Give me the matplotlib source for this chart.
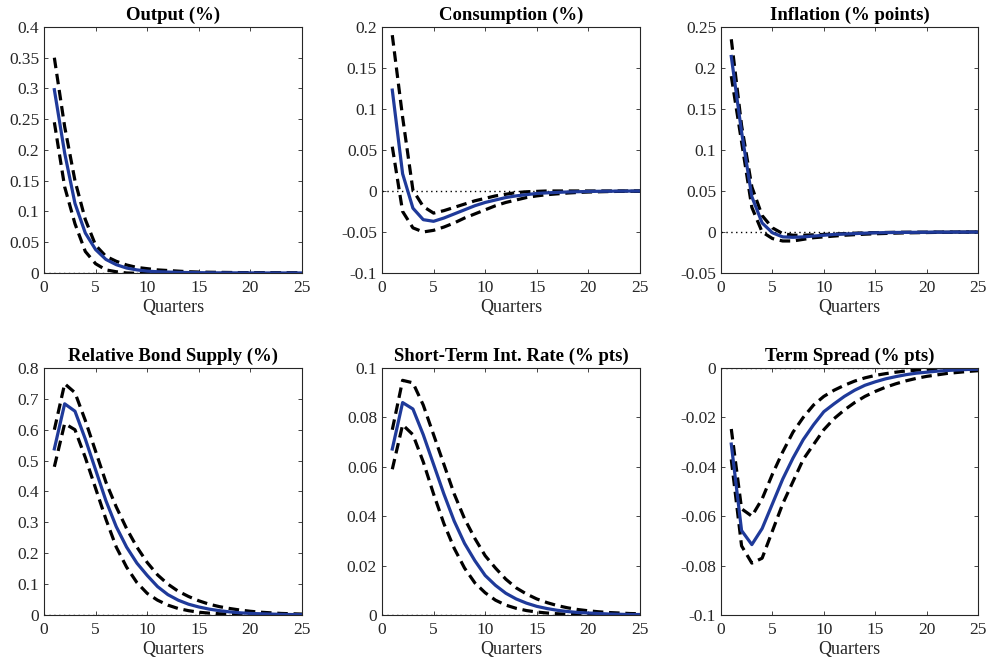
import numpy as np
import matplotlib
matplotlib.use('Agg')
import matplotlib.pyplot as plt

plt.rcParams['font.family'] = ['Liberation Serif', 'DejaVu Serif']

quarters = np.arange(1, 26)

titles = ['Output (%)', 'Consumption (%)', 'Inflation (% points)',
          'Relative Bond Supply (%)', 'Short-Term Int. Rate (% pts)', 'Term Spread (% pts)']

# median responses and bands
output_med = [0.298, 0.195, 0.113, 0.065, 0.038, 0.022, 0.0135, 0.008, 0.005, 0.003, 0.002, 0.0015, 0.001,
              0.0007, 0.0005, 0.0003, 0.0002, 0.0002, 0.0001, 0.0001, 0.0, 0.0, 0.0, 0.0, 0.0]
output_hi = [0.35, 0.238, 0.15, 0.087, 0.045, 0.027, 0.019, 0.013, 0.009, 0.007, 0.005, 0.004, 0.003,
             0.002, 0.0015, 0.0012, 0.001, 0.0008, 0.0006, 0.0005, 0.0004, 0.0003, 0.0002, 0.0002, 0.0001]
output_lo = [0.245, 0.14, 0.08, 0.035, 0.015, 0.005, 0.002, 0.0, -0.0005, -0.0005, -0.0004, -0.0003, -0.0002,
             -0.0002, -0.0001, -0.0001, 0.0, 0.0, 0.0, 0.0, 0.0, 0.0, 0.0, 0.0, 0.0]

cons_med = [0.123, 0.021, -0.021, -0.035, -0.037, -0.033, -0.028, -0.023, -0.018, -0.014, -0.011, -0.008,
            -0.006, -0.0045, -0.003, -0.0023, -0.0017, -0.0012, -0.0009, -0.0006, -0.0004, -0.0003, -0.0002,
            -0.0001, -0.0001]
cons_hi = [0.19, 0.09, 0.001, -0.019, -0.027, -0.024, -0.020, -0.016, -0.012, -0.009, -0.006, -0.004, -0.002,
           -0.001, -0.0005, 0.0, 0.0, 0.0, 0.0, 0.0, 0.0, 0.0, 0.0, 0.0, 0.0]
cons_lo = [0.054, -0.025, -0.045, -0.05, -0.048, -0.044, -0.039, -0.033, -0.028, -0.023, -0.018, -0.014,
           -0.011, -0.008, -0.006, -0.0045, -0.0035, -0.0025, -0.0018, -0.0013, -0.001, -0.0007, -0.0005,
           -0.0004, -0.0003]

infl_med = [0.214, 0.122, 0.043, 0.011, -0.001, -0.006, -0.0065, -0.006, -0.005, -0.004, -0.003, -0.0025,
            -0.002, -0.0015, -0.001, -0.0008, -0.0006, -0.0005, -0.0004, -0.0003, -0.0002, -0.0002, -0.0001,
            -0.0001, -0.0001]
infl_hi = [0.235, 0.13, 0.055, 0.02, 0.005, -0.002, -0.004, -0.004, -0.0035, -0.003, -0.0025, -0.002, -0.0015,
           -0.001, -0.0008, -0.0006, -0.0004, -0.0003, -0.0002, -0.0002, -0.0001, -0.0001, 0.0, 0.0, 0.0]
infl_lo = [0.19, 0.11, 0.03, 0.0, -0.008, -0.011, -0.011, -0.009, -0.007, -0.006, -0.005, -0.004, -0.0033,
           -0.0027, -0.0022, -0.0018, -0.0014, -0.0011, -0.0009, -0.0007, -0.0005, -0.0004, -0.0003, -0.0002,
           -0.0002]

bond_med = [0.538, 0.684, 0.66, 0.57, 0.47, 0.37, 0.286, 0.22, 0.168, 0.128, 0.092, 0.066, 0.048, 0.035,
            0.026, 0.019, 0.014, 0.010, 0.007, 0.005, 0.004, 0.003, 0.002, 0.0015, 0.001]
bond_hi = [0.6, 0.749, 0.72, 0.63, 0.53, 0.43, 0.35, 0.28, 0.22, 0.17, 0.13, 0.10, 0.077, 0.06, 0.046, 0.035,
           0.027, 0.021, 0.016, 0.012, 0.009, 0.007, 0.005, 0.004, 0.003]
bond_lo = [0.48, 0.62, 0.60, 0.51, 0.41, 0.31, 0.22, 0.155, 0.105, 0.07, 0.048, 0.032, 0.021, 0.014, 0.009,
           0.006, 0.004, 0.003, 0.002, 0.0015, 0.001, 0.0007, 0.0005, 0.0003, 0.0002]

rate_med = [0.0672, 0.086, 0.0834, 0.073, 0.061, 0.049, 0.038, 0.029, 0.022, 0.016, 0.012, 0.0088, 0.0065,
            0.0048, 0.0035, 0.0026, 0.0019, 0.0014, 0.001, 0.0008, 0.0006, 0.0004, 0.0003, 0.0002, 0.0002]
rate_hi = [0.075, 0.095, 0.094, 0.085, 0.073, 0.061, 0.049, 0.039, 0.031, 0.024, 0.019, 0.0145, 0.011, 0.0085,
           0.0065, 0.005, 0.0038, 0.0029, 0.0022, 0.0017, 0.0013, 0.001, 0.0008, 0.0006, 0.0005]
rate_lo = [0.059, 0.077, 0.073, 0.062, 0.049, 0.037, 0.027, 0.019, 0.013, 0.009, 0.006, 0.004, 0.0027, 0.0018,
           0.0012, 0.0008, 0.0005, 0.0003, 0.0002, 0.0001, 0.0001, 0.0, 0.0, 0.0, 0.0]

spread_med = [-0.0308, -0.0658, -0.0715, -0.065, -0.055, -0.045, -0.0365, -0.029, -0.023, -0.0177, -0.0145,
              -0.0115, -0.009, -0.007, -0.0056, -0.0044, -0.0035, -0.0027, -0.0021, -0.0017, -0.0013, -0.001,
              -0.0008, -0.0006, -0.0005]
spread_hi = [-0.0247, -0.057, -0.060, -0.053, -0.043, -0.034, -0.026, -0.02, -0.015, -0.0115, -0.009, -0.007,
             -0.0053, -0.004, -0.003, -0.0023, -0.0017, -0.0012, -0.0009, -0.0006, -0.0004, -0.0003, -0.0002,
             -0.0001, 0.0]
spread_lo = [-0.037, -0.072, -0.079, -0.077, -0.066, -0.055, -0.046, -0.037, -0.031, -0.025, -0.0205, -0.017,
             -0.014, -0.0115, -0.0095, -0.0078, -0.0064, -0.0052, -0.0042, -0.0034, -0.0028, -0.0022, -0.0018,
             -0.0014, -0.0011]

medians = [output_med, cons_med, infl_med, bond_med, rate_med, spread_med]
uppers = [output_hi, cons_hi, infl_hi, bond_hi, rate_hi, spread_hi]
lowers = [output_lo, cons_lo, infl_lo, bond_lo, rate_lo, spread_lo]

ylims = [(0, 0.4), (-0.1, 0.2), (-0.05, 0.25), (0, 0.8), (0, 0.1), (-0.1, 0)]
yticks = [np.arange(0, 0.41, 0.05), np.arange(-0.1, 0.21, 0.05), np.arange(-0.05, 0.26, 0.05),
          np.arange(0, 0.81, 0.1), np.arange(0, 0.101, 0.02), np.arange(-0.1, 0.001, 0.02)]

fig = plt.figure(figsize=(9.87, 6.64), dpi=100)

lefts = [0.0446, 0.387, 0.7305]
widths = [0.2614, 0.2614, 0.2604]
bottoms = [0.5889, 0.0738]
heights = [0.3705, 0.372]

blue = '#1f3a9a'

for i in range(6):
    r, c = divmod(i, 3)
    ax = fig.add_axes([lefts[c], bottoms[r], widths[c], heights[r]])
    ax.plot([0, 25], [0, 0], color='black', linestyle=(0, (1, 2.5)), lw=1.0)
    ax.plot(quarters, uppers[i], color='black', linestyle=(0, (3.3, 1.8)), lw=2.3)
    ax.plot(quarters, lowers[i], color='black', linestyle=(0, (3.3, 1.8)), lw=2.3)
    ax.plot(quarters, medians[i], color=blue, lw=2.3)
    ax.set_xlim(0, 25)
    ax.set_ylim(*ylims[i])
    ax.set_xticks([0, 5, 10, 15, 20, 25])
    ax.set_yticks(yticks[i])
    ax.set_yticklabels(['%g' % round(v, 3) for v in yticks[i]])
    ax.tick_params(direction='in', top=True, right=True, length=3, width=0.6,
                   labelsize=12.5, colors='#262626')
    ax.tick_params(axis='x', pad=5)
    for s in ax.spines.values():
        s.set_linewidth(0.8)
        s.set_color('#262626')
    ax.set_title(titles[i], fontsize=13.5, fontweight='bold', pad=5)
    ax.set_xlabel('Quarters', fontsize=13, color='#262626', labelpad=2)

fig.savefig('out.png', dpi=100)
